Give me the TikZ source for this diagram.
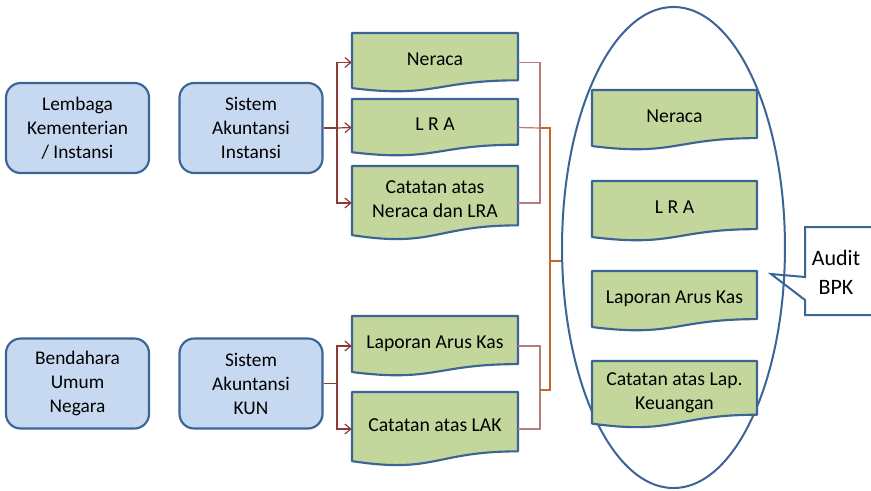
\documentclass[tikz,border=0pt]{standalone}
\usepackage{fontspec}
\setmainfont{Carlito}
\usetikzlibrary{arrows.meta}
\definecolor{bluefill}{HTML}{C6D9F1}
\definecolor{blueline}{HTML}{3C6494}
\definecolor{greenfill}{HTML}{C3D69B}
\definecolor{arrred}{HTML}{8E3B38}
\definecolor{linered}{HTML}{B57D78}
\definecolor{lineorange}{HTML}{C0692B}
\tikzset{
  bluebox/.style={draw=blueline, fill=bluefill, line width=1.6pt, rounded corners=11pt,
    minimum width=107.25pt, minimum height=67.5pt, align=center, inner sep=2pt,
    font=\fontsize{14.5}{18}\selectfont},
  docshape/.style={draw=blueline, fill=greenfill, line width=1.6pt, line join=round},
  doctext/.style={draw=none, fill=none, align=center, inner sep=0pt,
    font=\fontsize{14.8}{18}\selectfont},
  larr/.style={draw=arrred, line width=0.9pt, -{Straight Barb[length=4.5pt,width=7.5pt]}},
  lconn/.style={draw=arrred, line width=0.9pt},
  rconn/.style={draw=linered, line width=0.9pt},
  oconn/.style={draw=lineorange, line width=0.9pt},
  ringline/.style={draw=blueline, line width=1.5pt},
}
% name, cx, cy, w, h, text (all in px)
\newcommand\docnode[6]{%
  \path[docshape] ({#2-#4/2},{#3-#5/2}) -- ({#2+#4/2},{#3-#5/2})
    -- ({#2+#4/2},{#3-#5/2+0.802*#5})
    .. controls ({#2},{#3-#5/2+0.802*#5}) and ({#2},{#3-#5/2+1.108*#5})
    .. ({#2-#4/2},{#3-#5/2+0.934*#5}) -- cycle;
  \node[doctext, minimum width=#4*0.75pt, minimum height=#5*0.75pt] (#1) at (#2,#3)
    {\raisebox{0pt}[\height][\dimexpr\depth+3pt\relax]{\begin{tabular}{@{}c@{}}#6\end{tabular}}};}
\begin{document}
\begin{tikzpicture}[x=0.75pt, y=-0.75pt]
\clip (0,0) rectangle (871,490);
\fill[white] (0,0) rectangle (871,490);

% left blue boxes
\node[bluebox] (lki) at (77.5,128) {Lembaga\\Kementerian\\/ Instansi};
\node[bluebox] (sai) at (251,128) {Sistem\\Akuntansi\\Instansi};
\node[bluebox] (bun) at (77.5,383.5) {Bendahara\\Umum\\Negara};
\node[bluebox] (sak) at (251,383.5) {Sistem\\Akuntansi\\KUN};

% left document boxes
\docnode{n1}{435}{62.5}{166}{59}{Neraca}
\docnode{l1}{435}{127.5}{166}{57}{L R A}
\docnode{c1}{435}{203}{166}{74}{Catatan atas\\Neraca dan LRA}
\docnode{lak}{435}{346}{166}{60}{Laporan Arus Kas}
\docnode{clak}{435}{429}{166}{74}{Catatan atas LAK}

% ellipse and callout
\path[ringline, fill=white] (805,227) -- (880,227) -- (880,315) -- (805,315) -- (805,300) -- (771,274) -- (805,277) -- cycle;
\node[doctext, font=\fontsize{16.5}{21.75}\selectfont] (audit) at (836,272) {Audit\\BPK};
\draw[ringline] (673.5,247.5) ellipse [x radius=83.6pt, y radius=180.4pt];

% right document boxes
\docnode{n2}{674.5}{120}{165}{60}{Neraca}
\docnode{l2}{674.5}{211}{165}{60}{L R A}
\docnode{k2}{674.5}{301}{165}{60}{Laporan Arus Kas}
\docnode{c2}{674.5}{394.5}{165}{67}{Catatan atas Lap.\\Keuangan}

% connectors top group
\coordinate (jl1) at (337,128);
\coordinate (jr1) at (540,128);
\draw[lconn] (sai.east) -- (jl1);
\draw[larr] (jl1) |- (n1.west);
\draw[larr] (jl1) -- (l1.west);
\draw[larr] (jl1) |- (c1.west);
\draw[rconn] (n1.east) -| (jr1);
\draw[rconn] (c1.east) -| (jr1);
\draw[rconn] (l1.east) -- (jr1);

% connectors bottom group
\coordinate (jl2) at (337,383.5);
\coordinate (jr2) at (540,390);
\draw[lconn] (sak.east) -- (jl2);
\draw[larr] (jl2) |- (lak.west);
\draw[larr] (jl2) |- (clak.west);
\draw[rconn] (lak.east) -| (jr2);
\draw[rconn] (clak.east) -| (jr2);

% orange bracket into the ellipse
\coordinate (ob1) at (550,128);
\coordinate (ob2) at (550,390);
\coordinate (obm) at (550,261);
\coordinate (ring) at (561,261);
\draw[oconn] (jr1) -- (ob1) -- (ob2) -- (jr2);
\draw[oconn] (obm) -- (ring);
\end{tikzpicture}
\end{document}
